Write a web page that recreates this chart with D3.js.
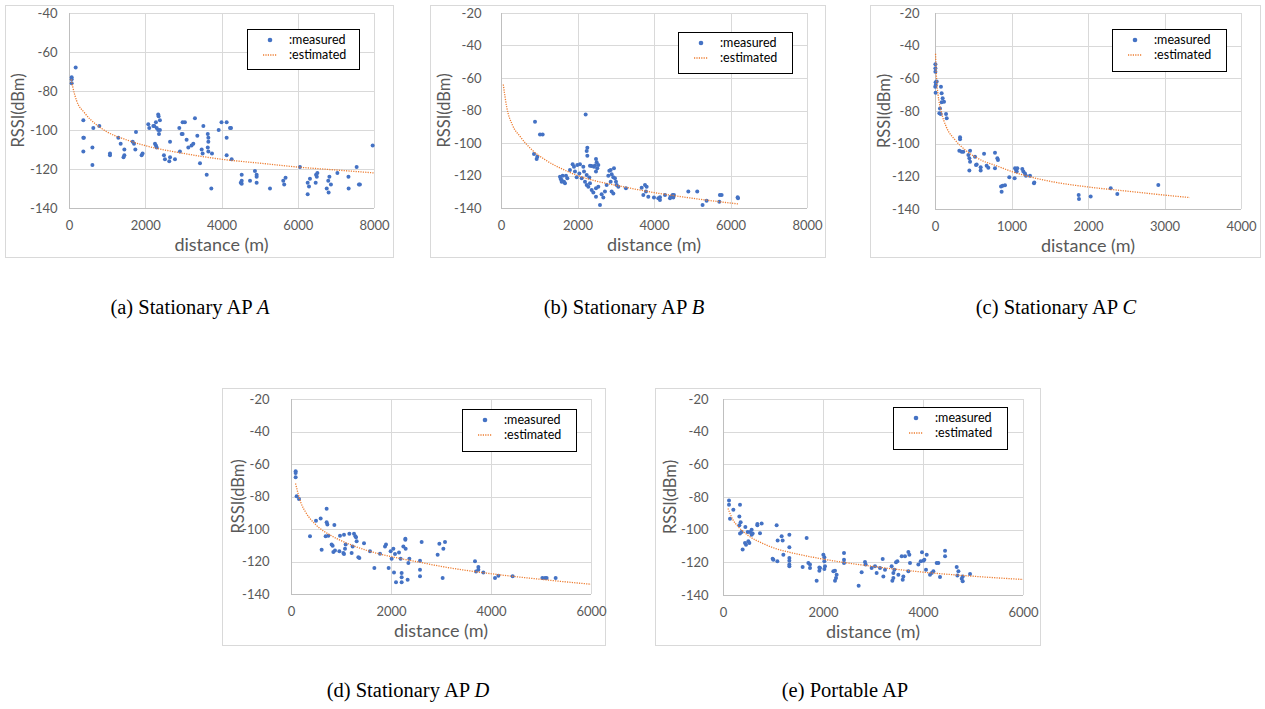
<!DOCTYPE html>
<html>
<head>
<meta charset="utf-8">
<script src="https://cdn.jsdelivr.net/npm/d3@7"></script>
<style>
    body { margin: 0; background: #fff; }
    .frame { fill: #fff; stroke: #d9d9d9; stroke-width: 1px; }
    .grid line { stroke: #d9d9d9; stroke-width: 1px; shape-rendering: crispEdges; }
    .axis path, .axis line { stroke: #bfbfbf; shape-rendering: crispEdges; }
    .axis text { font-family: Lato, "Open Sans", sans-serif; font-size: 13px; fill: #595959; }
    .atitle { font-family: Lato, "Open Sans", sans-serif; fill: #595959; }
    .dot { fill: #4472c4; }
    .fit { fill: none; stroke: #ed7d31; stroke-width: 1.3px; stroke-dasharray: 1.2 1.2; }
    .legend rect { fill: #fff; stroke: #000; stroke-width: 1px; shape-rendering: crispEdges; }
    .legend text { font-family: Lato, "Open Sans", sans-serif; font-size: 12.5px; fill: #000; }
</style>
</head>
<body>
<svg id="fig" width="1265" height="709"></svg>
<script>
    var measuredA = [
        [175,-68],[70,-73],[70,-74],[70,-76],
        [376,-95],[376,-104],[390,-104],[376,-111],
        [638,-99],[795,-98],[614,-109],[614,-118],
        [1075,-112],[1075,-113],[1294,-104],[1355,-107],
        [1452,-110],[1430,-114],[1452,-113],
        [1670,-106],[1705,-107],[1740,-110],[1757,-101],
        [1905,-113],[1930,-112],
        [2080,-97],[2105,-99],[2212,-98],[2238,-98],
        [2280,-96],[2340,-92],[2350,-93],[2385,-95],
        [2300,-99],[2340,-100],[2360,-102],[2385,-100],
        [2255,-107],[2300,-109],[2280,-108],
        [2490,-113],[2517,-115],[2650,-114],[2630,-116],[2780,-115],[2650,-106],
        [2893,-99],[2980,-96],[3040,-96],[2910,-111],[2955,-102],[2980,-102],
        [3085,-105],[3130,-109],[3215,-108],[3260,-107],
        [3304,-94],[3366,-103],[3524,-98],[3480,-110],[3505,-112],
        [3640,-102],[3655,-104],[3655,-106],[3640,-109],[3655,-111],
        [3612,-123],[3733,-130],[3750,-112],[3436,-117],
        [3926,-100],[4000,-96],[4135,-96],[4135,-104],[4223,-99],[4135,-113],[4266,-115],
        [4250,-99],
        [4530,-123],[4530,-126],[4505,-127],[4530,-127.5],
        [4748,-126],[4877,-121],[4922,-124],[4922,-127],[4922,-123],
        [5272,-130],[5620,-126],[5645,-128],[5680,-124.5],
        [6058,-119],[6260,-127],[6295,-129],[6260,-133],[6320,-125],[6480,-123],[6500,-124],[6515,-122],[6470,-127],
        [6760,-130],[6810,-132],[6800,-126],[6830,-124],[6870,-128],
        [7040,-122],[7330,-124],[7335,-130],[7545,-119],[7605,-128],[7630,-128],
        [7965,-108]
    ];
    var fitA = [[60,-74],[100,-78],[200,-85],[400,-91],[700,-97],[1000,-101],[1500,-105],[2000,-108],
        [3000,-112],[4000,-115],[5000,-117],[6000,-119],[7000,-120.5],[8000,-122]];

    var measuredB = [
        [889,-86.9],[1019,-94.7],[1089,-94.7],[863,-106.8],[932,-109.8],[950,-108.4],
        [2213,-82.4],[2257,-102.9],[2240,-104.9],[2257,-107.8],
        [1542,-120.7],[1560,-122.2],[1586,-122.8],[1647,-123.8],[1673,-124.8],[1612,-120.1],[1699,-120.1],[1734,-121.7],[1586,-123.8],
        [1873,-113.1],[1908,-114.6],[1995,-113.5],[2065,-113.1],[1934,-117.6],[1803,-116.6],[2048,-118.7],[2109,-121.7],[1978,-121.1],
        [2152,-114.6],[2170,-117.6],[2196,-123.8],[2240,-125.8],[2283,-126.9],[2326,-124.8],[2309,-121.3],[2240,-119.7],
        [2326,-114],[2370,-114.2],[2431,-114.6],[2483,-109.8],[2501,-111.9],[2518,-115.6],[2483,-117.6],[2544,-113.5],[2457,-113.9],
        [2370,-128.9],[2414,-130.4],[2483,-127.9],[2544,-126.9],[2588,-138.2],[2483,-133],[2631,-131.6],[2675,-133.6],[2718,-129.9],
        [2805,-120.1],[2832,-117],[2867,-116.6],[2893,-119.3],[2937,-121.1],[2954,-115.6],[2980,-121.7],[3006,-123.8],[3024,-125.8],
        [3067,-126.9],[2867,-123.8],[2762,-125.8],[2893,-129.9],[2937,-131],[3267,-127.9],
        [3677,-127.5],[3764,-125.8],[3808,-126.9],[3721,-132],[3790,-129.9],[3851,-133],[3999,-133.6],[4112,-134],
        [4156,-135.1],[4156,-133.4],[4287,-132],[4418,-134],[4435,-133],[4487,-132],[4505,-133.6],[4522,-132],
        [4897,-129.9],[5130,-129.9],[5270,-138.2],[5375,-135.5],[5723,-132],[5768,-132],[5708,-136.1],
        [6187,-133.4],[6196,-134]
    ];
    var fitB = [[60,-64],[150,-78],[300,-89],[500,-96],[800,-104],[1200,-111],[1600,-116],[2000,-120],
        [2500,-123.5],[3000,-126],[4000,-130.5],[5000,-134],[6200,-137.5]];

    var measuredC = [
        [5,-51.4],[5,-53.9],[5,-55.9],[8,-62.4],[3,-65.1],[10,-64.1],[22,-62],[8,-68.8],
        [78,-65.1],[87,-69.2],[100,-72.2],[118,-74.3],[87,-74.7],[65,-78.4],[57,-81.4],[74,-81.8],[144,-81.8],[153,-84.5],
        [327,-96.1],[327,-97.3],[318,-104.3],[349,-104.9],[370,-104.9],
        [458,-104.3],[436,-106.9],[449,-109],[458,-111],[523,-108],[536,-113.1],[545,-112.7],[449,-116.5],
        [597,-114.5],[597,-116.5],[641,-106.1],[675,-113.5],[697,-114.7],
        [784,-105.5],[815,-109],[823,-110],[784,-115.1],
        [863,-126.3],[884,-125.7],[915,-125.5],[871,-129.4],[971,-120.6],
        [1046,-115.1],[1059,-116.1],[1068,-117.1],[1076,-115.1],[1041,-121.2],
        [1141,-115.5],[1155,-117.1],[1176,-118.2],[1189,-119.6],[1242,-119.6],[1294,-124.3],[1298,-123.7],
        [1878,-131.4],[1882,-133.9],[2035,-132.4],[2297,-127.3],[2383,-130.8],[2919,-125.3]
    ];
    var fitC = [[7,-45],[20,-60],[40,-70],[80,-80],[150,-90],[250,-97],[400,-104],[600,-110],[800,-113.5],
        [1000,-117],[1500,-123],[2000,-126.5],[2500,-129],[3000,-131.5],[3330,-133]];

    var measuredD = [
        [93,-64.5],[93,-65.5],[93,-68.2],[113,-79.9],[160,-81.5],
        [380,-104.5],[500,-94.9],[593,-93.6],[613,-112.7],[713,-87.5],[713,-95.9],[727,-97.3],[747,-104.1],[693,-104.5],
        [867,-97.5],[813,-109.6],[833,-110.3],[847,-114.2],[880,-113.3],[967,-113.7],[980,-104.1],
        [1060,-103.5],[1047,-114.8],[1060,-115.4],[1080,-112.1],[1093,-109.6],[1167,-102.9],[1213,-114.8],[1233,-110.7],
        [1260,-102.9],[1287,-104.5],[1313,-107.6],[1300,-105.1],[1347,-117.4],[1367,-117.8],[1460,-108.8],
        [1580,-113.7],[1667,-124],[1780,-115.2],[1880,-110.7],[1900,-109.6],[1953,-124],
        [1993,-113.7],[2047,-112.1],[2080,-115.4],[2013,-118.3],[2060,-126.7],[2100,-132.8],
        [2213,-132.8],[2213,-129.7],[2213,-127.1],[2160,-114.4],[2193,-118.3],
        [2247,-110.7],[2287,-106.6],[2293,-112.1],[2287,-106],[2347,-120.9],[2367,-118.3],[2333,-131.2],
        [2580,-119.5],[2580,-125],[2580,-129.1],[2613,-108],
        [2933,-115.8],[2967,-109],[3047,-112.1],[3080,-108],[3033,-130.2],
        [3680,-119.9],[3747,-123.4],[3747,-125],[3700,-126.1],[3847,-126.7],
        [4080,-130.2],[4147,-128.7],[4433,-129.1],
        [5027,-130.2],[5080,-130.2],[5113,-130.2],[5293,-130.2]
    ];
    var fitD = [[90,-72],[200,-84],[300,-90],[500,-97.5],[800,-104],[1100,-108.5],[1500,-113],[2000,-117],
        [2500,-120],[3000,-123],[4000,-127.5],[5000,-131],[6000,-134]];

    var measuredE = [
        [120,-82.2],[120,-84.7],[140,-93.3],[207,-87.8],[340,-84.7],[327,-92],[353,-95.5],[327,-97.3],
        [373,-101.4],[340,-102.4],[393,-112.2],[447,-98.4],[460,-109.2],[493,-101.4],[507,-107.1],[527,-108.2],
        [540,-101.4],[573,-100],[573,-103.1],[593,-102.4],[440,-108.2],
        [687,-97.3],[687,-96.5],[773,-96.3],[740,-102.2],
        [1073,-97.3],[1087,-119.4],[993,-117.8],[1007,-118.4],[1093,-106.7],[1173,-104.1],[1193,-106.7],[1207,-115.3],
        [1327,-103.1],[1327,-110.8],[1327,-117.3],[1327,-121.4],[1327,-122.4],[1327,-119],
        [1593,-122.9],[1673,-105.1],[1707,-120.4],[1740,-121.4],[1740,-123.5],[1873,-131.2],
        [1927,-123.1],[1927,-125.1],[1940,-123.5],
        [2007,-115.3],[2027,-116.9],[2027,-119.4],[2040,-122.4],[2027,-124.1],
        [2207,-125.5],[2240,-125.1],[2260,-129.6],[2240,-131.2],[2273,-127.6],
        [2420,-114.3],[2420,-118.4],[2420,-120.4],
        [2713,-134.3],[2773,-126.1],[2840,-119.8],[2853,-121.4],
        [2973,-123.5],[3040,-122.4],[3073,-126.5],[3140,-123.5],[3194,-118],[3207,-128.6],[3240,-124.5],
        [3373,-122.4],[3387,-131.2],[3407,-126.5],[3407,-129.6],[3427,-124.5],[3460,-120],[3487,-119.4],[3507,-127.6],
        [3574,-116.3],[3594,-130.6],[3607,-128.6],[3640,-116.3],[3707,-113.7],[3727,-115.3],[3740,-120.4],[3707,-125.5],
        [3907,-121.4],[3954,-119.4],[3980,-113.9],[4007,-119],[4027,-118.4],[4074,-115.3],[4060,-124.5],
        [4140,-127.6],[4174,-126.5],[4207,-125.5],[4274,-120.4],[4307,-120.4],[4340,-129],
        [4441,-112.9],[4441,-116.3],
        [4674,-122.9],[4708,-125.5],[4688,-128],[4774,-130],[4794,-131.6],[4794,-128.6],[4941,-127.1]
    ];
    var fitE = [[100,-87],[200,-94],[300,-98],[500,-103.5],[800,-108.5],[1000,-111],[1500,-115],[2000,-118],
        [3000,-122.5],[4000,-126],[5000,-128.5],[6000,-130.5]];

    var captions = ["(a) Stationary AP ", "(b) Stationary AP ", "(c) Stationary AP ", "(d) Stationary AP ", "(e) Portable AP"];
    var captionVars = ["A", "B", "C", "D", ""];
    var xMaxes = [8000, 8000, 4000, 6000, 6000];
    var xSteps = [2000, 2000, 1000, 2000, 2000];
    var yMins = [-140, -140, -140, -140, -140];
    var yMaxes = [-40, -20, -20, -20, -20];
    var legendLabels = [":measured", ":estimated"];

    // layout of each panel (pixels)
    var layout = [
        { frame: [5, 5, 388, 252], plot: [69, 13, 374, 208], tickGap: 12, yTitleX: 18, cap: [190, 314] },
        { frame: [430, 5, 395, 252], plot: [501, 13, 807, 208], tickGap: 20, yTitleX: 444, cap: [624, 314] },
        { frame: [870, 5, 390, 252], plot: [935, 13, 1241, 209], tickGap: 16, yTitleX: 884, cap: [1056, 314] },
        { frame: [222, 388, 383, 257], plot: [291, 399, 591, 594], tickGap: 22, yTitleX: 238, cap: [408, 697] },
        { frame: [655, 388, 385, 257], plot: [723, 399, 1023, 595], tickGap: 15, yTitleX: 670, cap: [845, 697] }
    ];
    var legendBoxes = [[247, 29, 112, 40], [678, 32, 114, 41], [1112, 29, 114, 42], [462, 409, 114, 42], [893, 407, 114, 42]];

    var measured = [measuredA, measuredB, measuredC, measuredD, measuredE];
    var fits = [fitA, fitB, fitC, fitD, fitE];

    var svg = d3.select("#fig");

    layout.forEach(function (L, i) {
        var g = svg.append("g");
        var p = L.plot;

        g.append("rect").attr("class", "frame")
            .attr("x", L.frame[0] + 0.5).attr("y", L.frame[1] + 0.5)
            .attr("width", L.frame[2]).attr("height", L.frame[3]);

        var x = d3.scaleLinear().domain([0, xMaxes[i]]).range([p[0], p[2]]);
        var y = d3.scaleLinear().domain([yMins[i], yMaxes[i]]).range([p[3], p[1]]);
        var xTicks = d3.range(0, xMaxes[i] + 1, xSteps[i]);
        var yTicks = d3.range(yMins[i], yMaxes[i] + 1, 20);

        // gridlines
        var grid = g.append("g").attr("class", "grid");
        grid.selectAll("line.h").data(yTicks.slice(1)).enter().append("line")
            .attr("x1", p[0]).attr("x2", p[2])
            .attr("y1", d => Math.round(y(d)) + 0.5).attr("y2", d => Math.round(y(d)) + 0.5);
        grid.selectAll("line.v").data(xTicks.slice(1)).enter().append("line")
            .attr("y1", p[1]).attr("y2", p[3])
            .attr("x1", d => Math.round(x(d)) + 0.5).attr("x2", d => Math.round(x(d)) + 0.5);

        // axes
        var xAxis = d3.axisBottom(x).tickValues(xTicks).tickSize(0).tickPadding(12).tickFormat(d3.format("d"));
        var gx = g.append("g").attr("class", "axis")
            .attr("transform", "translate(0," + (Math.round(p[3]) + 0.5) + ")").call(xAxis);
        gx.select(".domain").attr("d", "M" + p[0] + ",0H" + p[2]);

        var yAxis = d3.axisLeft(y).tickValues(yTicks).tickSize(0).tickPadding(L.tickGap).tickFormat(d3.format("d"));
        var gy = g.append("g").attr("class", "axis")
            .attr("transform", "translate(" + (Math.round(p[0]) + 0.5) + ",0)").call(yAxis);
        gy.select(".domain").attr("d", "M0," + p[1] + "V" + p[3]);
        gy.selectAll("text").text(d => String(d));

        g.append("text").attr("class", "atitle")
            .attr("x", (p[0] + p[2]) / 2).attr("y", p[3] + 43)
            .attr("text-anchor", "middle").style("font-size", "18px")
            .text("distance (m)");
        g.append("text").attr("class", "atitle")
            .attr("transform", "translate(" + L.yTitleX + "," + ((p[1] + p[3]) / 2) + ") rotate(-90)")
            .attr("text-anchor", "middle").attr("dy", "0.35em").style("font-size", "16.5px")
            .text("RSSI(dBm)");

        // points
        g.append("g").selectAll("circle").data(measured[i]).enter().append("circle")
            .attr("class", "dot").attr("r", 2)
            .attr("cx", d => x(d[0])).attr("cy", d => y(d[1]));

        // fitted curve
        var line = d3.line().x(d => x(d[0])).y(d => y(d[1])).curve(d3.curveMonotoneX);
        g.append("path").attr("class", "fit").attr("d", line(fits[i]));

        // legend
        var lb = legendBoxes[i];
        var lg = g.append("g").attr("class", "legend");
        lg.append("rect").attr("x", lb[0] + 0.5).attr("y", lb[1] + 0.5).attr("width", lb[2]).attr("height", lb[3]);
        lg.append("circle").attr("class", "dot").attr("r", 2.3).attr("cx", lb[0] + 23).attr("cy", lb[1] + 11);
        lg.append("line").attr("class", "fit")
            .attr("x1", lb[0] + 16).attr("x2", lb[0] + 30).attr("y1", lb[1] + 26).attr("y2", lb[1] + 26);
        lg.selectAll("text").data(legendLabels).enter().append("text")
            .attr("x", lb[0] + 42).attr("y", (d, k) => lb[1] + 11 + k * 15)
            .attr("dy", "0.35em").text(d => d);

        // caption
        var cap = svg.append("text")
            .attr("x", L.cap[0]).attr("y", L.cap[1]).attr("text-anchor", "middle")
            .style("font-family", "'Liberation Serif', 'DejaVu Serif', serif")
            .style("font-size", "20.5px").style("fill", "#000");
        cap.append("tspan").text(captions[i]);
        if (captionVars[i]) cap.append("tspan").style("font-style", "italic").text(captionVars[i]);
    });
</script>
</body>
</html>
